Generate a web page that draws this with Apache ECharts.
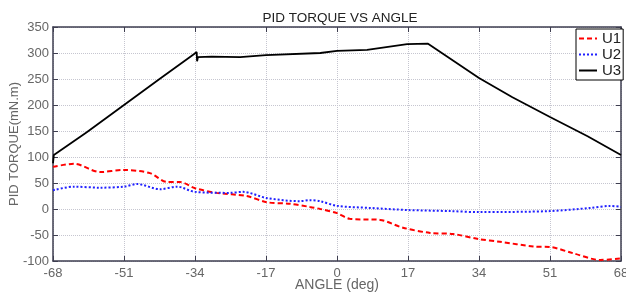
<!DOCTYPE html>
<html>
<head>
<meta charset="utf-8">
<script src="https://cdn.jsdelivr.net/npm/echarts@6/dist/echarts.min.js"></script>
<style>
  html, body { margin: 0; padding: 0; background: #fff; }
  #chart { width: 626px; height: 292px; }
</style>
</head>
<body>
<div id="chart"></div>
<script>
const xTicks = [-68, -51, -34, -17, 0, 17, 34, 51, 68];

const u1Angle = [-68, -63, -56.7, -51.2, -44.8, -40.7, -37.6, -34, -28.8, -21.6, -16.8, -11.2, -6.5, -4, 0, 3.1, 10.3, 15.8, 22.3, 27.8, 34, 39, 47, 51, 56.5, 63, 68];
const u1Value = [81, 87, 71, 75, 69, 52, 52, 40, 31, 25, 13, 10, 4, 0, -8, -19, -21, -36, -46, -48, -58, -63, -72, -73, -85, -98, -95];

const u2Angle = [-68, -63, -56.7, -51, -47.9, -42.4, -38.3, -34, -25.6, -22.5, -16.8, -8.9, -6.5, -4, 0, 7.9, 17, 27, 34, 51, 60.6, 65.4, 68];
const u2Value = [36, 43, 41, 43, 48, 38, 43, 33, 31, 33, 21, 15, 17, 15, 6, 2, -2, -4, -6, -4, 2, 6, 4];

const u3Angle = [-68, -67.8, -60, -51, -42, -34.2, -33.6, -33.5, -33.3, -30, -23.2, -17, -4, 0, 7.2, 16.8, 21.8, 22.2, 34, 42, 51, 60, 68];
const u3Value = [88, 104, 147, 200, 253, 298, 302, 284, 292, 293, 292, 296, 300, 304, 306, 317, 318, 320, 252, 215, 177, 140, 104];

const pairs = (xs, ys) => xs.map((x, i) => [x, ys[i]]);

const axisColor = '#3e3e50';
const labelColor = '#666';
const gridLine = () => ({ show: true, lineStyle: { color: '#c6c6d0', type: 'dotted', width: 1 } });
const tick = () => ({ show: true, inside: true, length: 5, lineStyle: { color: axisColor } });
const frame = () => ({ show: true, onZero: false, lineStyle: { color: axisColor, width: 1.5 } });

const chart = echarts.init(document.getElementById('chart'));
chart.setOption({
    animation: false,
    backgroundColor: '#fff',
    textStyle: { fontFamily: 'Liberation Sans' },
    title: {
        text: 'PID TORQUE VS ANGLE',
        left: 335,
        textAlign: 'center',
        top: 6,
        textStyle: { fontSize: 13.5, fontWeight: 'normal', color: '#222', fontFamily: 'Liberation Sans' }
    },
    legend: {
        orient: 'vertical',
        left: 576,
        top: 29,
        backgroundColor: '#fff',
        borderColor: '#000',
        borderWidth: 1,
        borderRadius: 0,
        padding: [2, 2, 2, 2],
        itemGap: 1,
        itemWidth: 18,
        itemHeight: 10,
        itemStyle: { opacity: 0 },
        textStyle: { fontSize: 15, color: '#222' },
        data: ['U1', 'U2', 'U3']
    },
    grid: { left: 53, right: 5, top: 27, bottom: 31, outerBoundsMode: 'none' },
    xAxis: [{
        type: 'value',
        min: -68,
        max: 68,
        interval: 17,
        name: 'ANGLE (deg)',
        nameLocation: 'middle',
        nameGap: 17,
        nameMoveOverlap: false,
        nameTextStyle: { fontSize: 14, color: labelColor },
        axisLine: frame(),
        axisTick: tick(),
        axisLabel: { fontSize: 13, color: labelColor, margin: 6 },
        splitLine: gridLine()
    }, {
        type: 'value',
        position: 'top',
        min: -68,
        max: 68,
        interval: 17,
        axisLine: frame(),
        axisTick: tick(),
        axisLabel: { show: false },
        splitLine: { show: false }
    }],
    yAxis: [{
        type: 'value',
        min: -100,
        max: 350,
        interval: 50,
        name: 'PID TORQUE(mN.m)',
        nameLocation: 'middle',
        nameGap: 32,
        nameMoveOverlap: false,
        nameTextStyle: { fontSize: 13, color: labelColor },
        axisLine: frame(),
        axisTick: tick(),
        axisLabel: { fontSize: 13, color: labelColor, margin: 4 },
        splitLine: gridLine()
    }, {
        type: 'value',
        position: 'right',
        min: -100,
        max: 350,
        interval: 50,
        axisLine: frame(),
        axisTick: tick(),
        axisLabel: { show: false },
        splitLine: { show: false }
    }],
    series: [{
        name: 'U1',
        type: 'line',
        symbol: 'none',
        smooth: 0.3,
        data: pairs(u1Angle, u1Value),
        itemStyle: { color: '#ff0000' },
        lineStyle: { color: '#ff0000', width: 2, type: [5, 3] }
    }, {
        name: 'U2',
        type: 'line',
        symbol: 'none',
        smooth: 0.3,
        data: pairs(u2Angle, u2Value),
        itemStyle: { color: '#2020ff' },
        lineStyle: { color: '#2020ff', width: 2, type: [2, 2] }
    }, {
        name: 'U3',
        type: 'line',
        symbol: 'none',
        data: pairs(u3Angle, u3Value),
        itemStyle: { color: '#000' },
        lineStyle: { color: '#000', width: 1.8 }
    }]
});
</script>
</body>
</html>
